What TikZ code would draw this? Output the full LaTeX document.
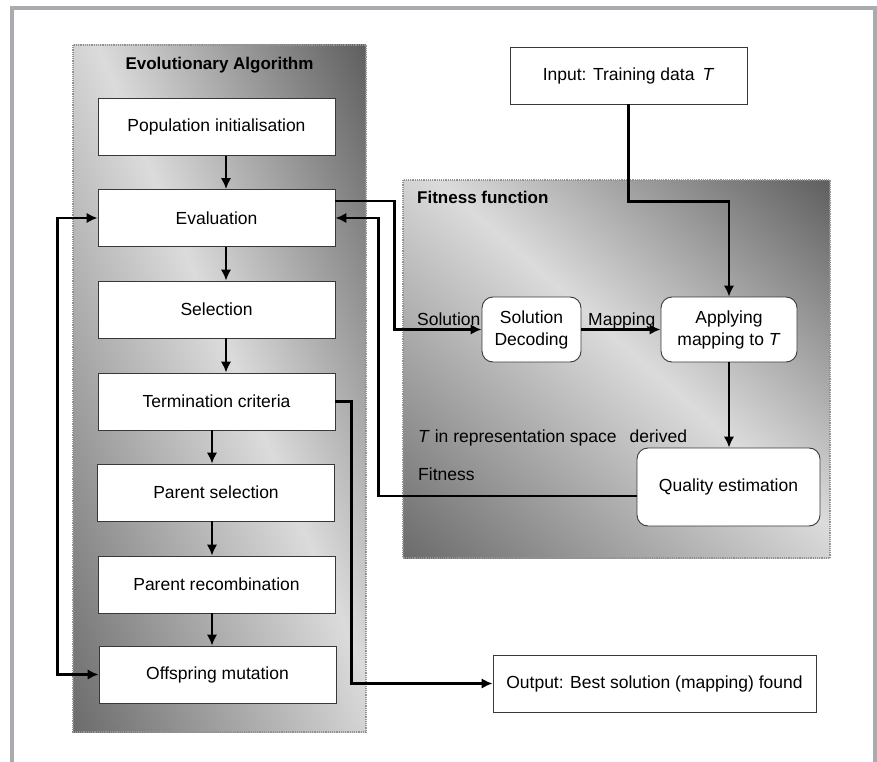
\documentclass[tikz,border=0pt]{standalone}
\usepackage{fontspec}
\setmainfont{Liberation Sans}
\usetikzlibrary{arrows.meta,calc}
\definecolor{shDark}{gray}{0.42}
\definecolor{shDarkB}{gray}{0.37}
\definecolor{shLight}{gray}{0.86}
\definecolor{frameGray}{RGB}{170,171,174}
\definecolor{boxLine}{gray}{0.22}
\pgfdeclarehorizontalshading{ridgeh}{100bp}{color(0bp)=(shDark); color(25bp)=(shDark); color(52bp)=(shLight); color(75bp)=(shDarkB); color(100bp)=(shDarkB)}
\tikzset{
  container/.style={draw=gray!85, densely dotted, line width=1.2pt},
  eabox/.style={draw=boxLine, line width=0.9pt, fill=white, minimum width=237pt, minimum height=57pt, inner sep=0pt, font=\fontsize{17.5}{20}\selectfont},
  ffbox/.style={draw=boxLine, line width=0.9pt, fill=white, rounded corners=11pt, inner sep=0pt, align=center, font=\fontsize{17.5}{22}\selectfont},
  iobox/.style={draw=boxLine, line width=0.9pt, fill=white, minimum height=57pt, inner sep=0pt, font=\fontsize{17.5}{20}\selectfont},
  arr/.style={line width=2.5pt, -{Latex[length=11pt,width=10.5pt]}},
  lbl/.style={inner sep=0pt, font=\fontsize{17.5}{20}\selectfont},
  ttl/.style={inner sep=0pt, font=\fontsize{17}{20}\selectfont\bfseries}
}
\begin{document}
\begin{tikzpicture}[x=1pt,y=-1pt]
\useasboundingbox (0,0) rectangle (877,762);
\clip (0,0) rectangle (877,762);
\fill[white] (0,0) rectangle (877,762);
\draw[frameGray, line width=4.5pt] (12,8) rectangle (874.8,800);

% EA container shading
\begin{scope}
  \clip (73,45) rectangle (366,732);
  \begin{scope}[transform canvas={rotate around={23.1:(219.5,388.5)}}]
    \shade[shading=ridgeh] (-50,-11.5) rectangle (489,788.5);
  \end{scope}
\end{scope}
\draw[container] (73,45) rectangle (366,732);

% Fitness container shading
\begin{scope}
  \clip (403,180) rectangle (830,558);
  \begin{scope}[transform canvas={rotate around={48.5:(616.5,369)}}]
    \shade[shading=ridgeh] (333.5,59) rectangle (899.5,679);
  \end{scope}
\end{scope}
\draw[container] (403,180) rectangle (830,558);

\node[ttl, anchor=base] (eatitle) at (219.5,70) {Evolutionary Algorithm};
\node[ttl, anchor=base west] (fftitle) at (417,203) {Fitness function};

% EA boxes
\node[eabox] (pop)  at (216.5,127)   {Population initialisation};
\node[eabox] (eval) at (216.5,218)   {Evaluation};
\node[eabox] (sel)  at (216.5,309.5) {Selection};
\node[eabox] (term) at (216.5,401.5) {Termination criteria};
\node[eabox] (psel) at (216,492.5)   {Parent selection};
\node[eabox] (prec) at (216.5,584.5) {Parent recombination};
\node[eabox] (omut) at (217.5,674.5) {Offspring mutation};

% IO boxes
\node[iobox, minimum width=237pt] (input) at (628.5,75.5) {Input: Training data\hspace{8pt}\textit{T}};
\node[iobox, minimum width=323pt] (output) at (654.5,683.5) {Output: Best solution (mapping) found};

% fitness boxes
\node[ffbox, minimum width=99pt, minimum height=65pt] (sdec) at (531.5,329.5) {Solution\\Decoding};
\node[ffbox, minimum width=136pt, minimum height=65pt] (apply) at (729,329.5) {Applying\\mapping to \textit{T}};
\node[ffbox, minimum width=183pt, minimum height=78pt, font=\fontsize{17.5}{20}\selectfont] (qual) at (728.5,487) {Quality estimation};

% labels
\node[lbl, anchor=base west] (lsol) at (417,325) {Solution};
\node[lbl, anchor=base west] (lmap) at (588,325) {Mapping};
\node[lbl, anchor=base west] (lrep) at (418,442) {\textit{T} in representation space\hspace{13pt}derived};
\node[lbl, anchor=base west] (lfit) at (418,480) {Fitness};

% EA flow
\draw[arr] ([xshift=9.5pt]pop.south) -- ([xshift=9.5pt]eval.north);
\draw[arr] ([xshift=9.5pt]eval.south) -- ([xshift=9.5pt]sel.north);
\draw[arr] ([xshift=9.5pt]sel.south) -- ([xshift=9.5pt]term.north);
\draw[arr] ([xshift=-4.5pt]term.south) -- ([xshift=-4.5pt]term.south |- psel.north);
\draw[arr] ([xshift=-4pt]psel.south) -- ([xshift=-4pt]psel.south |- prec.north);
\draw[arr] ([xshift=-4.5pt]prec.south) -- ([xshift=-4.5pt]prec.south |- omut.north);

% loop
\draw[line width=2.5pt, {Latex[length=11pt,width=10.5pt]}-{Latex[length=11pt,width=10.5pt]}] (eval.west) -- ++(-40,0) |- (omut.west);

% evaluation to solution decoding
\draw[arr] ([yshift=17pt]eval.east) -- ++(59,0) |- (sdec.west);
% fitness back
\draw[arr] ([yshift=-9pt]qual.west) -- ++(-258,0) |- (eval.east);
% termination to output
\draw[arr] (term.east) -- ++(16,0) |- (output.west);
% input to applying
\draw[arr] (input.south) -- ++(0,97) -| (apply.north);
% solution decoding to applying
\draw[arr] (sdec.east) -- (apply.west);
% applying to quality
\draw[arr] (apply.south) -- (apply.south |- qual.north);
\end{tikzpicture}
\end{document}
